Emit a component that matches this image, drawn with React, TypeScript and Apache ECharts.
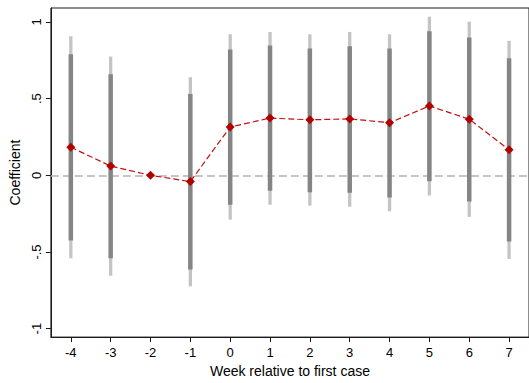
import React, { useEffect, useRef } from "react";
import * as echarts from "echarts";

const weeks = [-4, -3, -2, -1, 0, 1, 2, 3, 4, 5, 6, 7];
const coef = [0.183, 0.06, 0, -0.041, 0.315, 0.373, 0.362, 0.368, 0.343, 0.452, 0.366, 0.166];
const ci90Low = [-0.425, -0.541, null, -0.614, -0.192, -0.101, -0.11, -0.114, -0.144, -0.039, -0.17, -0.431];
const ci90High = [0.789, 0.659, null, 0.53, 0.821, 0.847, 0.827, 0.842, 0.827, 0.939, 0.898, 0.763];
const ci95Low = [-0.541, -0.655, null, -0.724, -0.289, -0.192, -0.198, -0.205, -0.235, -0.131, -0.271, -0.545];
const ci95High = [0.907, 0.774, null, 0.64, 0.92, 0.935, 0.92, 0.935, 0.92, 1.034, 1.002, 0.877];
const yTicks = [-1, -0.5, 0, 0.5, 1];
const yTickLabels = ["-1", "-.5", "0", ".5", "1"];

const FONT = "'Liberation Sans', Arial, sans-serif";

function ciData(low: (number | null)[], high: (number | null)[]) {
  const out: number[][] = [];
  weeks.forEach((w, i) => {
    const l = low[i];
    const h = high[i];
    if (l !== null && h !== null) out.push([w, l, h]);
  });
  return out;
}

function ciSeries(name: string, low: (number | null)[], high: (number | null)[], color: string, width: number, z: number) {
  return {
    type: "custom",
    name,
    z,
    data: ciData(low, high),
    encode: { x: 0, y: [1, 2] },
    renderItem: (params: any, api: any) => {
      const p1 = api.coord([api.value(0), api.value(1)]);
      const p2 = api.coord([api.value(0), api.value(2)]);
      return {
        type: "line",
        shape: { x1: p1[0], y1: p1[1], x2: p2[0], y2: p2[1] },
        style: { stroke: color, lineWidth: width },
      };
    },
  };
}

export default function App() {
  const ref = useRef<HTMLDivElement>(null);
  useEffect(() => {
    if (!ref.current) return;
    const chart = echarts.init(ref.current, undefined, { renderer: "svg" });
    chart.setOption({
      animation: false,
      backgroundColor: "#ffffff",
      grid: {
        left: 50.5,
        top: 8,
        width: 482,
        height: 332,
        show: true,
        borderColor: "#1a1a1a",
        borderWidth: 1,
        backgroundColor: "transparent",
      },
      xAxis: {
        type: "value",
        min: -4.5,
        max: 7.5,
        name: "Week relative to first case",
        nameLocation: "middle",
        nameGap: 23,
        nameTextStyle: { fontFamily: FONT, fontSize: 14, color: "#000" },
        axisLine: { show: true, onZero: false, lineStyle: { color: "#1a1a1a", width: 1 } },
        axisTick: { show: true, length: 5, lineStyle: { color: "#1a1a1a" }, customValues: weeks },
        axisLabel: {
          fontFamily: FONT,
          fontSize: 13,
          color: "#000",
          margin: 9,
          customValues: weeks,
          formatter: (v: number) => String(v),
        },
        splitLine: { show: false },
      },
      yAxis: {
        type: "value",
        min: -1.055,
        max: 1.091,
        name: "Coefficient",
        nameLocation: "middle",
        nameGap: 17,
        nameRotate: 90,
        nameTextStyle: { fontFamily: FONT, fontSize: 14, color: "#000" },
        axisLine: { show: true, onZero: false, lineStyle: { color: "#1a1a1a", width: 1 } },
        axisTick: { show: true, length: 5, lineStyle: { color: "#1a1a1a" }, customValues: yTicks },
        axisLabel: {
          fontFamily: FONT,
          fontSize: 13,
          color: "#000",
          rotate: 90,
          margin: 8,
          customValues: yTicks,
          formatter: (v: number) => {
            const i = yTicks.findIndex((t) => Math.abs(t - v) < 1e-6);
            return i >= 0 ? yTickLabels[i] : "";
          },
        },
        splitLine: { show: false },
      },
      series: [
        ciSeries("95% CI", ci95Low, ci95High, "#c4c4c4", 3.3, 2),
        ciSeries("90% CI", ci90Low, ci90High, "#858585", 4.5, 3),
        {
          type: "line",
          name: "Coefficient",
          z: 5,
          data: weeks.map((w, i) => [w, coef[i]]),
          symbol: "diamond",
          symbolSize: [9, 9],
          itemStyle: { color: "#b00000" },
          lineStyle: { color: "#c01010", width: 1.2, type: [6, 3] },
          markLine: {
            silent: true,
            symbol: "none",
            z: 1,
            label: { show: false },
            lineStyle: { color: "#b4b4b4", width: 1.5, type: [8, 4] },
            data: [{ yAxis: 0 }],
          },
        },
      ],
    });
    return () => chart.dispose();
  }, []);
  return (
    <div
      ref={ref}
      style={{ position: "fixed", left: 0, top: 0, width: 529, height: 383, background: "#fff" }}
    />
  );
}
